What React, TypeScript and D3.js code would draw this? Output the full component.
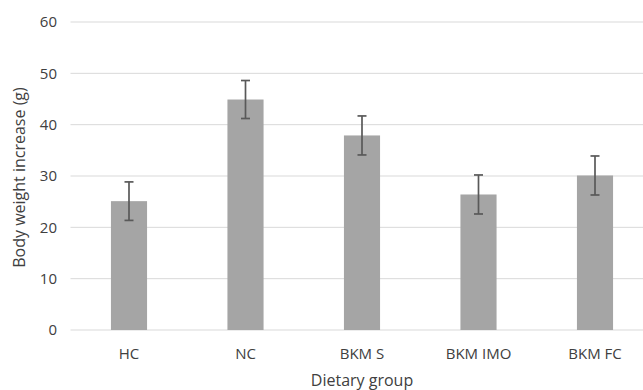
import React from "react";
import * as d3 from "d3";

const categories = ["HC", "NC", "BKM S", "BKM IMO", "BKM FC"];
const values = [25.1, 44.9, 37.9, 26.4, 30.1];
const errors = [3.75, 3.7, 3.8, 3.8, 3.8];
const yTicks = [0, 10, 20, 30, 40, 50, 60];

export default function App() {
  const W = 643, H = 390;
  const x = d3.scaleBand<string>().domain(categories).range([70.75, 653.25]).paddingInner(0.69).paddingOuter(0.345);
  const y = d3.scaleLinear().domain([0, 60]).range([330, 22]);
  const font = "'Open Sans', sans-serif";
  const txt = "#404040";
  return (
    <svg width={W} height={H} style={{ position: "absolute", left: 0, top: 0, background: "#fff" }} fontFamily={font}>
      {yTicks.map((t) => (
        <g key={t}>
          <line x1={70.5} x2={W} y1={y(t)} y2={y(t)} stroke="#d9d9d9" strokeWidth={1} />
          <text x={57} y={y(t)} dy="0.36em" textAnchor="end" fontSize={15} fill={txt}>{t}</text>
        </g>
      ))}
      {categories.map((c, i) => {
        const cx = x(c)! + x.bandwidth() / 2;
        return (
          <g key={c}>
            <rect x={x(c)} y={y(values[i])} width={x.bandwidth()} height={y(0) - y(values[i])} fill="#a5a5a5" />
            <line x1={cx} x2={cx} y1={y(values[i] + errors[i])} y2={y(values[i] - errors[i])} stroke="#595959" strokeWidth={1.7} />
            <line x1={cx - 4.5} x2={cx + 4.5} y1={y(values[i] + errors[i])} y2={y(values[i] + errors[i])} stroke="#595959" strokeWidth={1.7} />
            <line x1={cx - 4.5} x2={cx + 4.5} y1={y(values[i] - errors[i])} y2={y(values[i] - errors[i])} stroke="#595959" strokeWidth={1.7} />
            <text x={cx} y={359} textAnchor="middle" fontSize={15} fill={txt}>{c}</text>
          </g>
        );
      })}
      <text x={362} y={386} textAnchor="middle" fontSize={16} fill={txt}>Dietary group</text>
      <text transform={`translate(25,177.5) rotate(-90)`} textAnchor="middle" fontSize={16} fill={txt}>Body weight increase (g)</text>
    </svg>
  );
}
